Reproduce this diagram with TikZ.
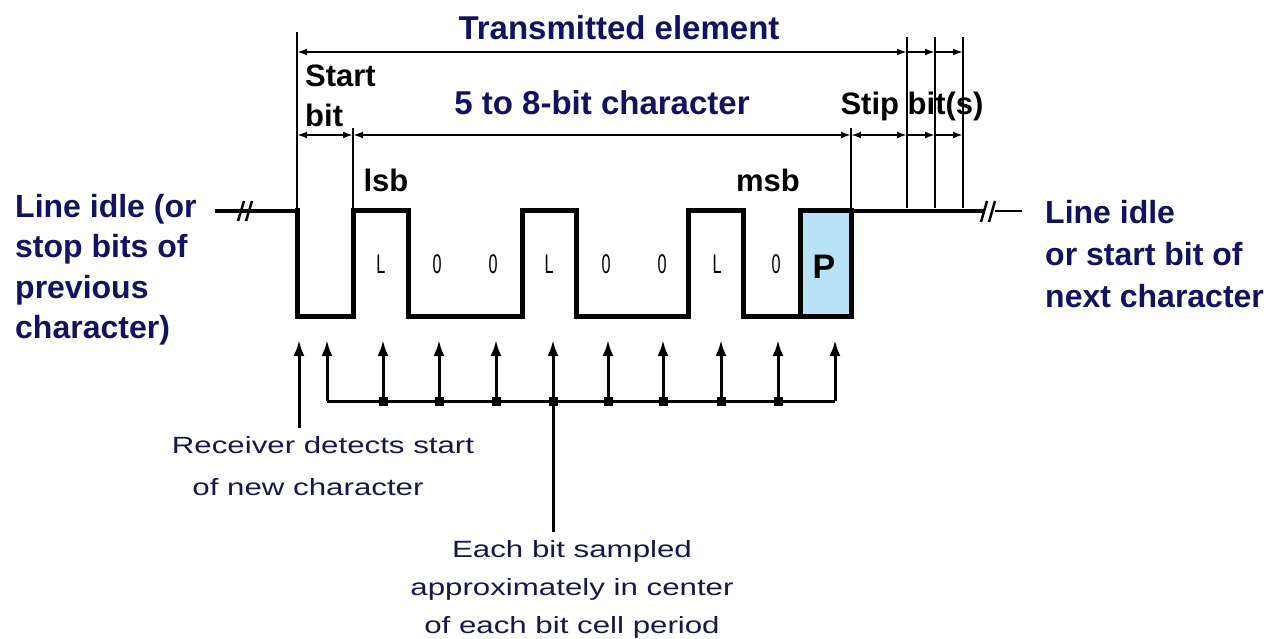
\documentclass[tikz,border=0pt]{standalone}
\usepackage{fontspec}
\setmainfont{Liberation Sans}
\usetikzlibrary{arrows.meta}

\definecolor{navy}{RGB}{18,18,96}
\definecolor{notenavy}{RGB}{24,24,72}
\definecolor{paritybg}{RGB}{184,226,246}

% widened regular text for the explanatory notes
\newcommand{\widetext}[1]{\scalebox{1.33}[1]{#1}}
% narrow glyphs for the bit values
\newcommand{\narrow}[1]{\scalebox{0.6}[1]{#1}}

\tikzset{
  dimtip/.tip={Latex[length=10pt,width=7pt]},
  samptip/.tip={Latex[length=16pt,width=11pt]}
}

\begin{document}
\begin{tikzpicture}[x=1pt,y=-1pt,
  titlelbl/.style={font=\fontsize{33}{38}\selectfont\bfseries, text=navy, inner sep=0pt, anchor=base},
  blacklbl/.style={font=\fontsize{31}{36}\selectfont\bfseries, text=black, inner sep=0pt},
  sidelbl/.style={font=\fontsize{32}{38}\selectfont\bfseries, text=navy, inner sep=0pt, anchor=base west},
  notelbl/.style={font=\fontsize{23.5}{27}\selectfont, text=notenavy, inner sep=0pt, anchor=base},
  bitval/.style={font=\fontsize{27}{30}\selectfont, inner sep=0pt, anchor=base},
  wave/.style={line width=5pt, line join=miter, line cap=rect},
  idle/.style={line width=4pt},
  breakmark/.style={line width=2.5pt},
  dimline/.style={line width=2.5pt},
  extline/.style={line width=2pt},
  sampler/.style={line width=3pt},
  junction/.style={fill=black, minimum size=9pt, inner sep=0pt, rectangle}
]
\useasboundingbox[fill=white] (0,0) rectangle (1282,639);

% ---------- signal waveform ----------
\fill[paritybg] (800,211) rectangle (851,316);

\coordinate (idleL) at (215,211);
\coordinate (startfall) at (297,211);
\coordinate (idleR) at (985,211);
\coordinate (idleRend) at (1022,211);

\draw[idle] (idleL) -- (startfall);
\draw[breakmark] (238,221) -- (244,201) (246,221) -- (252,201);

\draw[wave] (startfall) -- (297,316) -- (353,316) -- (353,211) -- (408,211)
  -- (408,316) -- (522,316) -- (522,211) -- (576,211) -- (576,316)
  -- (688,316) -- (688,211) -- (743,211) -- (743,316) -- (800,316)
  -- (800,211) -- (851,211);
\draw[wave] (851,211) -- (851,316) -- (800,316);
\draw[idle] (851,211) -- (idleR);
\draw[breakmark] (981,222) -- (987,201) (989,222) -- (995,201);
\draw[breakmark] (995,211) -- (idleRend);

% bit values
\node[bitval] (b1) at (381,273) {\narrow{L}};
\node[bitval] (b2) at (437,273) {\narrow{0}};
\node[bitval] (b3) at (493,273) {\narrow{0}};
\node[bitval] (b4) at (549,273) {\narrow{L}};
\node[bitval] (b5) at (606,273) {\narrow{0}};
\node[bitval] (b6) at (662,273) {\narrow{0}};
\node[bitval] (b7) at (717,273) {\narrow{L}};
\node[bitval] (b8) at (776,273) {\narrow{0}};
\node[font=\fontsize{34}{38}\selectfont\bfseries, inner sep=0pt, anchor=base] (par) at (824,278) {P};

% ---------- dimension lines ----------
\coordinate (tA) at (297,52);
\coordinate (tB) at (907,52);
\coordinate (tC) at (935,52);
\coordinate (tD) at (963,52);
\coordinate (cA) at (297,135);
\coordinate (cB) at (353,135);
\coordinate (cC) at (851,135);
\coordinate (cD) at (907,135);
\coordinate (cE) at (935,135);
\coordinate (cF) at (963,135);

% extension lines
\draw[dimline] (297,32) -- (startfall);
\draw[extline] (353,128) -- (353,211);
\draw[extline] (851,128) -- (851,211);
\draw[extline] (907,37) -- (907,208);
\draw[extline] (935,37) -- (935,208);
\draw[extline] (963,37) -- (963,208);

% transmitted element
\draw[dimline, dimtip-dimtip] (tA) -- (tB);
\draw[dimline, -dimtip] (tB) -- (tC);
\draw[dimline, -dimtip] (tC) -- (tD);

% start bit, character, parity and stop bits
\draw[dimline, dimtip-dimtip] (cA) -- (cB);
\draw[dimline, dimtip-dimtip] (cB) -- (cC);
\draw[dimline, dimtip-dimtip] (cC) -- (cD);
\draw[dimline, -dimtip] (cD) -- (cE);
\draw[dimline, -dimtip] (cE) -- (cF);

% ---------- labels ----------
\node[titlelbl] (telem) at (619,40) {Transmitted element};
\node[titlelbl] (chr) at (602,115) {5 to 8-bit character};
\node[blacklbl, anchor=base west] (start) at (305,87) {Start};
\node[blacklbl, anchor=base west] (sbit) at (305,127) {bit};
\node[blacklbl, anchor=base] (lsb) at (386,192) {lsb};
\node[blacklbl, anchor=base] (msb) at (768,192) {msb};
\node[blacklbl, anchor=base] (stop) at (912,115) {Stip bit(s)};

\node[sidelbl] (l1) at (15,218) {Line idle (or};
\node[sidelbl] (l2) at (15,258) {stop bits of};
\node[sidelbl] (l3) at (15,298) {previous};
\node[sidelbl] (l4) at (15,338) {character)};

\node[sidelbl] (r1) at (1045,223) {Line idle};
\node[sidelbl] (r2) at (1045,265) {or start bit of};
\node[sidelbl] (r3) at (1045,307) {next character};

% ---------- sampling arrows ----------
\coordinate (detect0) at (299,428);
\coordinate (detect1) at (299,340);
\draw[sampler, -samptip] (detect0) -- (detect1);

\coordinate (busL) at (327,401);
\coordinate (busR) at (835,401);
\draw[sampler] (busL) -- (busR);
\draw[sampler, -samptip] (busL) -- (327,340);
\draw[sampler, -samptip] (busR) -- (835,340);

\foreach \x [count=\i] in {383,439,496,553,608,663,721,778} {
  \node[junction] (j\i) at (\x,401) {};
  \draw[sampler, -samptip] (j\i.center) -- (\x,340);
}
\coordinate (stemEnd) at (553,532);
\draw[sampler] (j4.center) -- (stemEnd);

% ---------- notes ----------
\node[notelbl] (n1) at (323,453) {\widetext{Receiver detects start}};
\node[notelbl] (n2) at (308,495) {\widetext{of new character}};
\node[notelbl] (n3) at (572,557) {\widetext{Each bit sampled}};
\node[notelbl] (n4) at (572,595) {\widetext{approximately in center}};
\node[notelbl] (n5) at (572,633) {\widetext{of each bit cell period}};
\end{tikzpicture}
\end{document}
